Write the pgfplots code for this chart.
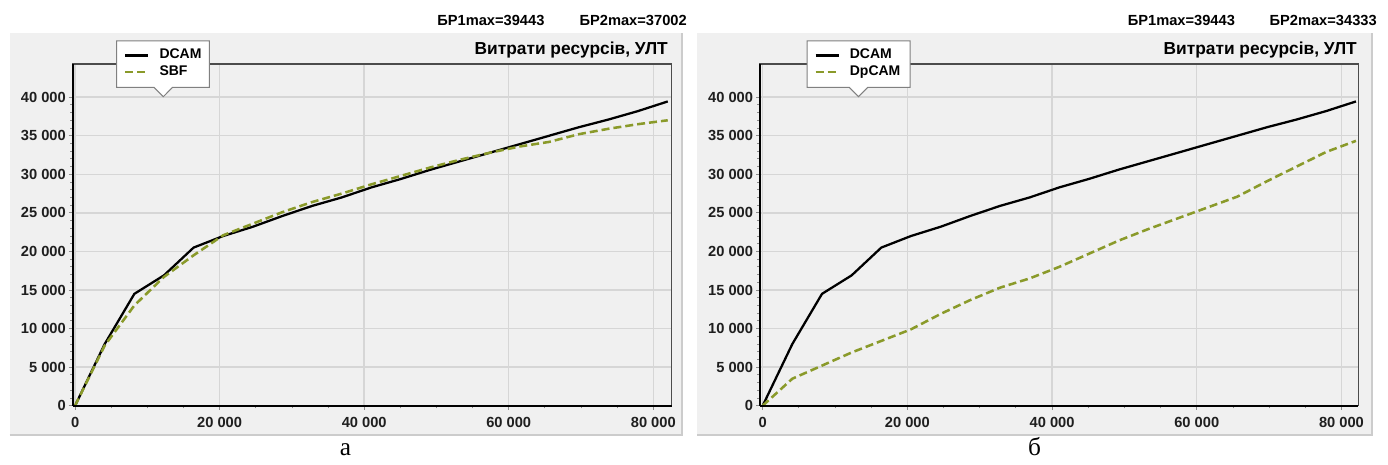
\documentclass[border=0pt]{standalone}
\usepackage{fontspec}
\setmainfont{Liberation Sans}
\newfontfamily\capfont{Liberation Serif}
\usepackage{pgfplots}
\usepackage{pgfplotstable}
\pgfplotsset{compat=1.18}
\definecolor{panel}{HTML}{F0F0F0}
\definecolor{gridc}{HTML}{D6D6D6}
\definecolor{olivec}{HTML}{8A9A2A}
\definecolor{edgec}{HTML}{CCCCCC}

\pgfplotstableread{
x     dcam  sbf   dpcam
0     0     0     0
4100  8000  7800  3500
8200  14500 13000 5200
12300 16900 16700 6900
16400 20500 19500 8400
20500 22000 22100 9900
24600 23200 23600 11900
28700 24600 25100 13700
32800 25900 26400 15300
36900 27000 27500 16500
41000 28300 28700 18000
45100 29400 29800 19700
49200 30600 30900 21400
53300 31700 31900 22900
57400 32800 32800 24300
61500 33900 33600 25700
65600 35000 34200 27100
69700 36100 35200 29100
73800 37100 35900 31000
77900 38200 36500 32900
82000 39443 37002 34333
}\data

\pgfplotsset{panelaxis/.style={
  scale only axis, width=449.25pt, height=256.275pt,
  anchor=south west,
  ymin=0, ymax=44300,
  clip=false,
  scaled ticks=false,
  xtick={0,20000,40000,60000,80000},
  xticklabels={0,20 000,40 000,60 000,80 000},
  ytick={0,5000,10000,15000,20000,25000,30000,35000,40000},
  yticklabels={0,5 000,10 000,15 000,20 000,25 000,30 000,35 000,40 000},
  minor x tick num=3, minor y tick num=4,
  xtick pos=left, ytick pos=left,
  tick align=outside,
  major tick length=3pt, minor tick length=2pt,
  tick style={draw=black!45, line width=0.6pt},
  grid=major, major grid style={draw=gridc, line width=1.1pt},
  axis line style={draw=black!70, line width=1pt},
  tick label style={font=\fontsize{11}{12}\selectfont\bfseries, text=black!88, inner sep=1pt},
  yticklabel style={xshift=-1pt},
  xticklabel style={yshift=-4.25pt},
  legend style={draw=none, fill=none, inner sep=0pt, outer sep=0pt, row sep=2.5pt,
    anchor=north west, font=\fontsize{10.5}{12}\selectfont\bfseries,
    nodes={inner sep=0pt, text height=7.5pt, text depth=2.5pt},
    /tikz/every odd column/.append style={column sep=7.5pt}},
  legend cell align=left,
  legend image code/.code={\draw[##1] (0pt,0pt) -- (17.25pt,0pt);},
}}

\begin{document}
\begin{tikzpicture}[x=0.75pt,y=0.75pt]
\useasboundingbox (0,0) rectangle (1388,464);
% panels
\fill[panel] (9.5,29) rectangle (682,431);
\draw[edgec, line width=1.5pt] (9.5,29) -- (682,29) -- (682,431);
\fill[panel] (697,29) rectangle (1372,431);
\draw[edgec, line width=1.5pt] (697,29) -- (1372,29) -- (1372,431);

% left chart
\begin{axis}[panelaxis, at={(54.525pt,43.725pt)}, xmin=-330, xmax=82550,
  legend style={at={(0.0856,1.0445)}}]
\addplot[black, line width=1.7pt] table[x=x,y=dcam]{\data};
\addlegendentry{DCAM}
\addplot[olivec, line width=1.9pt, dash pattern=on 6pt off 3pt] table[x=x,y=sbf]{\data};
\addlegendentry{SBF}
\draw[black, line width=1.6pt] (axis description cs:0,0) -- (axis description cs:1,0);
\draw[black, line width=1.2pt] (axis description cs:0,0) -- (axis description cs:0,1);
\draw[fill=white, draw=black!50, line width=0.75pt]
  (axis description cs:0.07346,1.06731) -- (axis description cs:0.22805,1.06731)
  -- (axis description cs:0.22805,0.93181) -- (axis description cs:0.16678,0.93181)
  -- (axis description cs:0.15125,0.90430) -- (axis description cs:0.13573,0.93181)
  -- (axis description cs:0.07346,0.93181) -- cycle;
\end{axis}

% right chart
\begin{axis}[panelaxis, at={(570pt,43.725pt)}, width=448.725pt, xmin=-370, xmax=82330,
  legend style={at={(0.0908,1.0445)}}]
\addplot[black, line width=1.7pt] table[x=x,y=dcam]{\data};
\addlegendentry{DCAM}
\addplot[olivec, line width=1.9pt, dash pattern=on 6pt off 3pt] table[x=x,y=dpcam]{\data};
\addlegendentry{DpCAM}
\draw[black, line width=1.6pt] (axis description cs:0,0) -- (axis description cs:1,0);
\draw[black, line width=1.2pt] (axis description cs:0,0) -- (axis description cs:0,1);
\draw[fill=white, draw=black!50, line width=0.75pt]
  (axis description cs:0.07856,1.06731) -- (axis description cs:0.25071,1.06731)
  -- (axis description cs:0.25071,0.93181) -- (axis description cs:0.18018,0.93181)
  -- (axis description cs:0.16463,0.90430) -- (axis description cs:0.14909,0.93181)
  -- (axis description cs:0.07856,0.93181) -- cycle;
\end{axis}

% titles and headers
\node[anchor=base east, inner sep=0pt, font=\fontsize{13}{15}\selectfont\bfseries] at (668,409) {Витрати ресурсів, УЛТ};
\node[anchor=base east, inner sep=0pt, font=\fontsize{13}{15}\selectfont\bfseries] at (1357,409) {Витрати ресурсів, УЛТ};
\node[anchor=base west, inner sep=0pt, font=\fontsize{11}{12}\selectfont\bfseries] at (437,438) {БР1max=39443};
\node[anchor=base east, inner sep=0pt, font=\fontsize{11}{12}\selectfont\bfseries] at (687,438) {БР2max=37002};
\node[anchor=base west, inner sep=0pt, font=\fontsize{11}{12}\selectfont\bfseries] at (1127.5,438) {БР1max=39443};
\node[anchor=base east, inner sep=0pt, font=\fontsize{11}{12}\selectfont\bfseries] at (1377,438) {БР2max=34333};
% captions
\node[anchor=base, inner sep=0pt, font=\capfont\fontsize{19}{20}\selectfont] at (345.5,8) {а};
\node[anchor=base, inner sep=0pt, font=\capfont\fontsize{19}{20}\selectfont] at (1034.5,8) {б};
\end{tikzpicture}
\end{document}
